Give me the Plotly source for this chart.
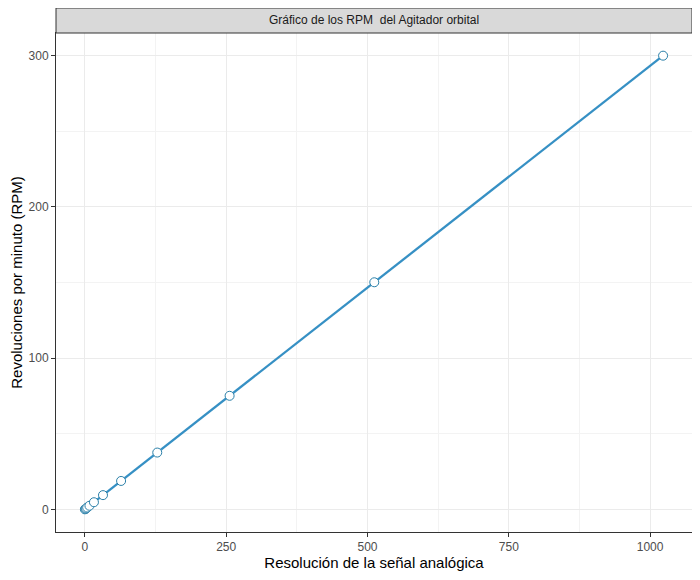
import plotly.graph_objects as go

# resolucion de la senal (0-1023) y RPM medidas
resolucion = [0, 1, 2, 4, 8, 16, 32, 64, 128, 256, 512, 1023]
rpm = [0, 0.29, 0.59, 1.17, 2.35, 4.69, 9.38, 18.77, 37.54, 75.07, 150.15, 300]

x_ticks = [0, 250, 500, 750, 1000]
y_ticks = [0, 100, 200, 300]

titulo = "Gráfico de los RPM  del Agitador orbital"

fig = go.Figure()
fig.add_trace(go.Scatter(
    x=resolucion, y=rpm, mode="lines+markers",
    line=dict(color="#3690C4", width=2.3),
    marker=dict(size=9, color="white", line=dict(color="#2A7FA8", width=1)),
    showlegend=False,
))

font = "Arial, Liberation Sans, sans-serif"
ejes = dict(
    showgrid=True, gridcolor="#EBEBEB", gridwidth=1, automargin=False,
    zeroline=False, showline=True, linecolor="#333333", linewidth=1, mirror=True,
    ticks="outside", ticklen=4, tickcolor="#333333",
    tickfont=dict(family=font, size=12, color="#4D4D4D"),
)

# la pagina tiene 8px de margen en body, por eso 692x572
fig.update_layout(
    width=692, height=572,
    paper_bgcolor="white", plot_bgcolor="white",
    margin=dict(l=48, r=8, t=25, b=48),
    font=dict(family=font),
    xaxis=dict(
        range=[-51.15, 1074.15], tickvals=x_ticks,
        minor=dict(showgrid=True, gridcolor="#F3F3F3", tick0=125, dtick=250),
        title=dict(text="Resolución de la señal analógica",
                   font=dict(family=font, size=15, color="black"), standoff=2),
        **ejes,
    ),
    yaxis=dict(
        range=[-15, 315], tickvals=y_ticks,
        minor=dict(showgrid=True, gridcolor="#F3F3F3", tick0=50, dtick=100),
        title=dict(text="Revoluciones por minuto (RPM)",
                   font=dict(family=font, size=15, color="black"), standoff=6),
        **ejes,
    ),
)

# franja del facet (estilo ggplot)
alto = 25 / 499
fig.add_shape(type="rect", xref="paper", yref="paper", x0=0, x1=1, y0=1, y1=1 + alto,
              fillcolor="#D9D9D9", line=dict(color="#333333", width=1))
fig.add_annotation(text=titulo, xref="paper", yref="paper", x=0.5, y=1 + alto / 2,
                   xanchor="center", yanchor="middle", showarrow=False,
                   font=dict(family=font, size=12, color="#1A1A1A"))

fig.write_html("out.html")
